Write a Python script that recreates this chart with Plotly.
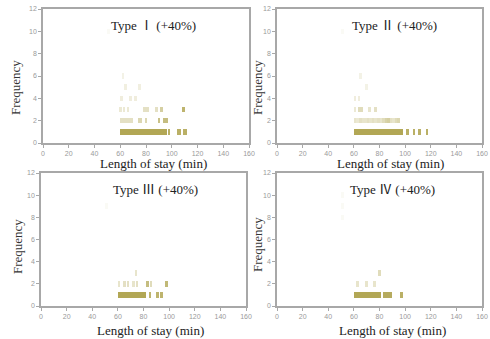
import plotly.graph_objects as go

# ---------------- data ----------------
panel_numerals = ["Ⅰ", "Ⅱ", "Ⅲ", "Ⅳ"]
panel_suffix = "(+40%)"
x_ticks = [0, 20, 40, 60, 80, 100, 120, 140, 160]
y_ticks = [0, 2, 4, 6, 8, 10, 12]

# Type I
t1_len = [61, 63, 65, 67, 69, 71, 73, 75, 77, 79, 81, 83, 85, 87, 89, 91, 93, 95, 98, 105, 106, 110, 111,
          61, 63, 65, 67, 69, 75, 76, 80, 90, 94, 96,
          60, 63, 66, 79, 81, 88, 92, 109,
          61, 68, 72,
          64, 75,
          62,
          51]
t1_freq = [1, 1, 1, 1, 1, 1, 1, 1, 1, 1, 1, 1, 1, 1, 1, 1, 1, 1, 1, 1, 1, 1, 1,
           2, 2, 2, 2, 2, 2, 2, 2, 2, 2, 2,
           3, 3, 3, 3, 3, 3, 3, 3,
           4, 4, 4,
           5, 5,
           6,
           10]
t1_weight = [1, 1, 1, 1, 1, 1, 1, 1, 1, 1, 1, 1, 1, 1, 1, 1, 1, 1, 0.9, 0.9, 0.9, 0.9, 0.9,
             0.35, 0.35, 0.35, 0.35, 0.35, 0.45, 0.45, 0.45, 0.7, 0.75, 0.75,
             0.25, 0.25, 0.25, 0.35, 0.35, 0.35, 0.55, 0.85,
             0.2, 0.2, 0.2,
             0.18, 0.18,
             0.15,
             0.06]

# Type II
t2_len = [61, 63, 65, 67, 69, 71, 73, 75, 77, 79, 81, 83, 85, 87, 89, 91, 93, 95, 97, 102, 107, 111, 117,
          61, 63, 65, 67, 69, 71, 73, 75, 77, 79, 81, 83, 85, 87, 89, 91, 93, 95,
          61, 64, 66, 72, 77,
          61, 64,
          70,
          65,
          51]
t2_freq = [1, 1, 1, 1, 1, 1, 1, 1, 1, 1, 1, 1, 1, 1, 1, 1, 1, 1, 1, 1, 1, 1, 1,
           2, 2, 2, 2, 2, 2, 2, 2, 2, 2, 2, 2, 2, 2, 2, 2, 2, 2,
           3, 3, 3, 3, 3,
           4, 4,
           5,
           6,
           10]
t2_weight = [1, 1, 1, 1, 1, 1, 1, 1, 1, 1, 1, 1, 1, 1, 1, 1, 1, 1, 1, 0.9, 0.9, 0.9, 0.9,
             0.3, 0.25, 0.35, 0.3, 0.3, 0.35, 0.3, 0.35, 0.3, 0.35, 0.3, 0.4, 0.5, 0.55, 0.35, 0.3, 0.4, 0.45,
             0.25, 0.4, 0.4, 0.3, 0.35,
             0.2, 0.2,
             0.15,
             0.15,
             0.06]

# Type III
t3_len = [61, 63, 65, 67, 69, 71, 73, 75, 77, 79, 81, 85, 91, 94,
          61, 65, 68, 72, 75, 83, 86, 98,
          74,
          51]
t3_freq = [1, 1, 1, 1, 1, 1, 1, 1, 1, 1, 1, 1, 1, 1,
           2, 2, 2, 2, 2, 2, 2, 2,
           3,
           9]
t3_weight = [1, 1, 1, 1, 1, 1, 1, 1, 1, 1, 1, 0.85, 0.85, 0.85,
             0.3, 0.35, 0.35, 0.3, 0.35, 0.75, 0.4, 0.8,
             0.3,
             0.06]

# Type IV
t4_len = [61, 63, 65, 67, 69, 71, 73, 75, 77, 79, 80, 84, 86, 88, 89, 97,
          63, 70, 76,
          80,
          51, 51, 51]
t4_freq = [1, 1, 1, 1, 1, 1, 1, 1, 1, 1, 1, 1, 1, 1, 1, 1,
           2, 2, 2,
           3,
           8, 9, 10]
t4_weight = [1, 1, 1, 1, 1, 1, 1, 1, 1, 1, 1, 0.95, 0.95, 0.95, 0.95, 0.9,
             0.3, 0.3, 0.3,
             0.4,
             0.06, 0.06, 0.06]

# ---------------- styling ----------------
BASE_RGB = (178, 167, 85)
MARK_W = 2.0      # minutes
MARK_H = 0.5      # frequency units
W, H = 490, 339


def shade(w):
    r, g, b = [round(255 * (1 - w) + c * w) for c in BASE_RGB]
    return f"rgb({r},{g},{b})"


# pixel boxes of the four panels: (left, right, top, bottom)
boxes = [(43, 249, 9, 143), (277, 482, 9, 143), (41, 246, 173, 306), (277, 482, 173, 306)]
ylab_pos = [(15, 88), (257, 88), (18, 247), (257, 245)]
xlab_pos = [(153, 163), (390, 163), (150, 330), (392, 330)]
title_pos = [(86, 10.6), (92, 10.6), (89, 10.6), (90, 10.6)]

datasets = [(t1_len, t1_freq, t1_weight), (t2_len, t2_freq, t2_weight),
            (t3_len, t3_freq, t3_weight), (t4_len, t4_freq, t4_weight)]

fig = go.Figure()
annotations = []
layout_axes = {}
serif = "Liberation Serif, Times New Roman, serif"
NB = "\u00a0"

for i, ((lens, freqs, weights), box) in enumerate(zip(datasets, boxes)):
    k = "" if i == 0 else str(i + 1)
    xa, ya = "x" + k, "y" + k
    fig.add_trace(go.Bar(
        x=lens,
        y=[MARK_H for _ in lens],
        base=[f - MARK_H / 2 for f in freqs],
        width=MARK_W,
        marker=dict(color=[shade(w) for w in weights], line=dict(width=0)),
        xaxis=xa, yaxis=ya, hoverinfo="skip", showlegend=False,
    ))
    l, r, t, b = box
    axis_common = dict(
        showgrid=False, zeroline=False, showline=True, mirror=True,
        linecolor="#a8a8a8", linewidth=1.5,
        ticks="outside", ticklen=3, tickwidth=1, tickcolor="#a8a8a8",
        tickfont=dict(family="Liberation Sans, Arial, sans-serif", size=7, color="#9a9a9a"),
        fixedrange=True, automargin=False,
    )
    layout_axes["xaxis" + k] = dict(axis_common, domain=[l / W, r / W], range=[0, 160],
                                    tickvals=x_ticks, anchor=ya)
    layout_axes["yaxis" + k] = dict(axis_common, domain=[1 - b / H, 1 - t / H], range=[0, 12],
                                    tickvals=y_ticks, anchor=xa)
    tx, ty = title_pos[i]
    title_text = ("Type" + NB
                  + f"<span style='font-family:Noto Sans CJK JP'>{panel_numerals[i]}</span>"
                  + NB + panel_suffix)
    annotations.append(dict(x=tx, y=ty, xref=xa, yref=ya, text=title_text, showarrow=False,
                            xanchor="center", yanchor="middle",
                            font=dict(family=serif, size=13, color="#222")))
    px, py = ylab_pos[i]
    annotations.append(dict(x=px / W, y=1 - py / H, xref="paper", yref="paper", text="Frequency",
                            textangle=-90, showarrow=False, xanchor="center", yanchor="middle",
                            font=dict(family=serif, size=13, color="#333")))
    px, py = xlab_pos[i]
    annotations.append(dict(x=px / W, y=1 - py / H, xref="paper", yref="paper",
                            text="Length of stay (min)", showarrow=False,
                            xanchor="center", yanchor="middle",
                            font=dict(family=serif, size=13, color="#222")))

fig.update_layout(
    width=W, height=H,
    margin=dict(l=0, r=0, t=0, b=0, pad=0, autoexpand=False),
    paper_bgcolor="white", plot_bgcolor="white",
    barmode="overlay", bargap=0,
    annotations=annotations,
    **layout_axes,
)

fig.write_html("out.html", config={"displayModeBar": False},
               post_script="document.body.style.margin='0px';document.body.style.padding='0px';")
